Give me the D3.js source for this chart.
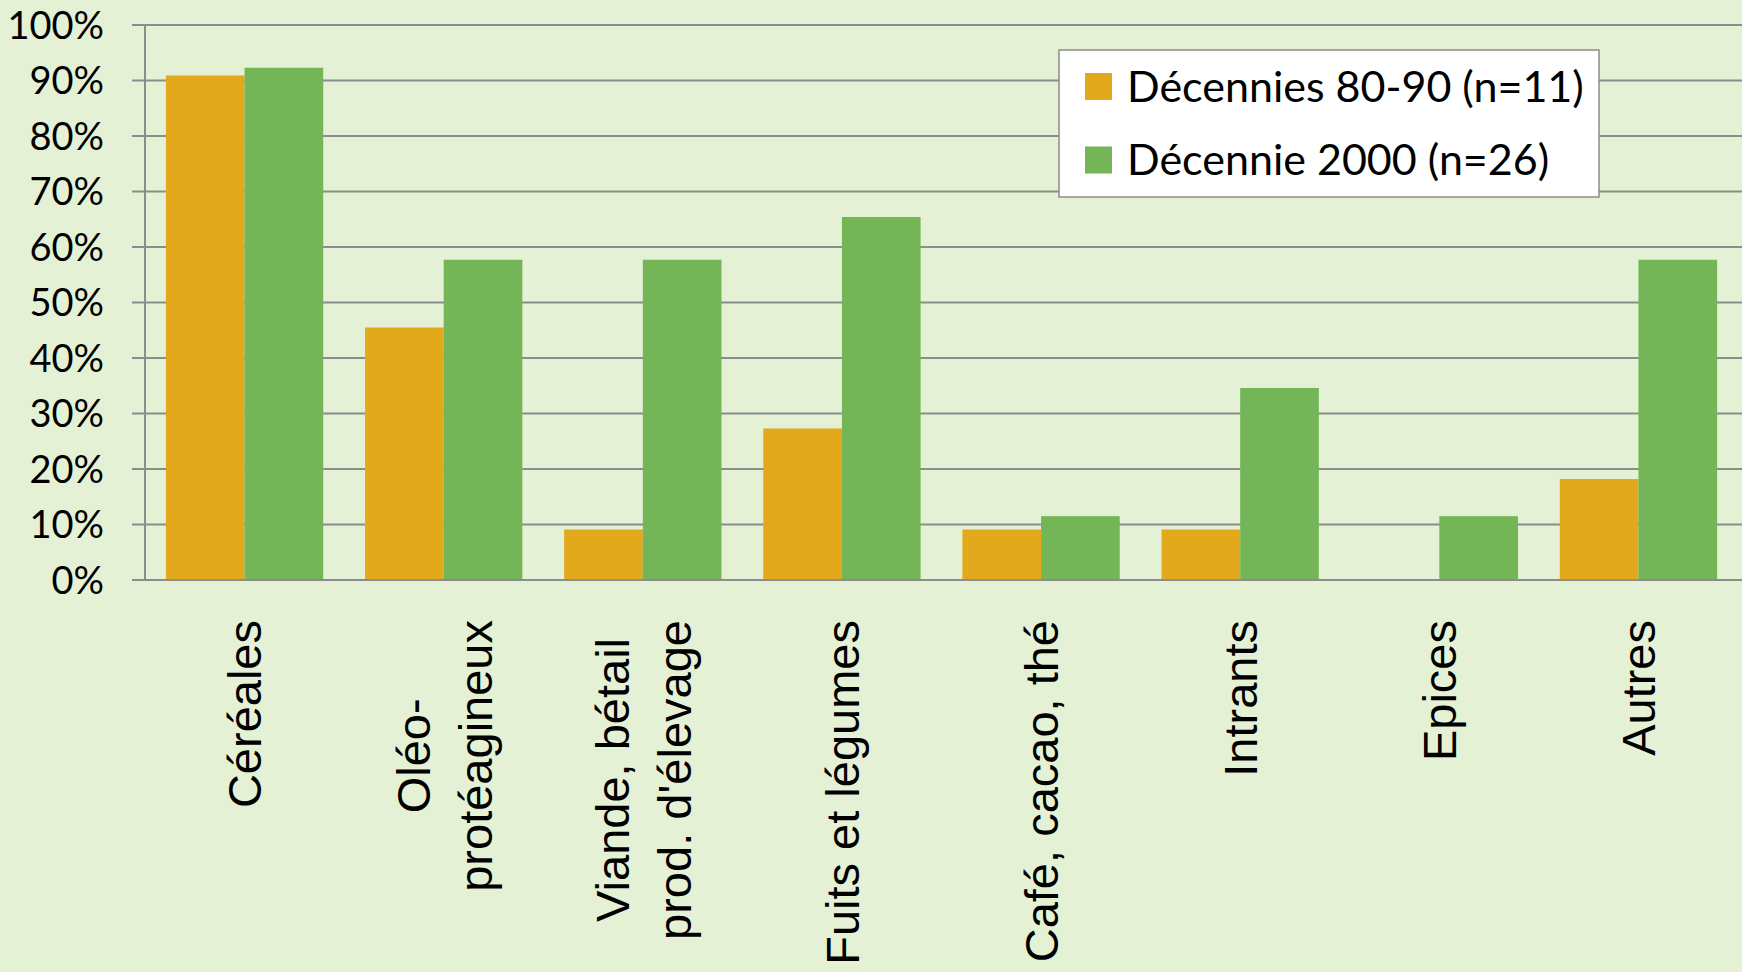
<!DOCTYPE html>
<html><head><meta charset="utf-8">
<script src="https://cdn.jsdelivr.net/npm/d3@7"></script>
<style>html,body{margin:0;padding:0;background:#e4f1d5;}</style>
</head><body>
<svg id="c" width="1742" height="972"></svg>
<script>
const categories = [["Céréales"], ["Oléo-", "protéagineux"], ["Viande, bétail", "prod. d'élevage"], ["Fuits et légumes"], ["Café, cacao, thé"], ["Intrants"], ["Epices"], ["Autres"]];
const seriesNames = ["Décennies 80-90 (n=11)", "Décennie 2000 (n=26)"];
const s8090 = [90.9, 45.5, 9.1, 27.3, 9.1, 9.1, 0, 18.2];
const s2000 = [92.3, 57.7, 57.7, 65.4, 11.5, 34.6, 11.5, 57.7];
const yTicks = [0, 10, 20, 30, 40, 50, 60, 70, 80, 90, 100];
const colors = ["#e2a91c", "#74b558"];

(function(){
const svg = d3.select("#c");
svg.append("rect").attr("width", 1742).attr("height", 972).attr("fill", "#e4f1d5");
const pL = 145, pR = 1742, pT = 25, pB = 580;
const keys = categories.map((c, i) => i);
const x = d3.scaleBand().domain(keys).range([pL, 1738]).paddingInner(0.21).paddingOuter(0.105);
const xs = d3.scaleBand().domain([0, 1]).range([0, x.bandwidth()]);
const y = d3.scaleLinear().domain([0, 100]).range([pB, pT]);

svg.append("g").selectAll("line").data(yTicks).join("line")
  .attr("x1", 132).attr("x2", pR).attr("y1", d => y(d)).attr("y2", d => y(d))
  .attr("stroke", "#8c8c8c").attr("stroke-width", 2);
svg.append("line").attr("x1", pL).attr("x2", pL).attr("y1", pT).attr("y2", pB)
  .attr("stroke", "#8c8c8c").attr("stroke-width", 2);
svg.append("g").selectAll("text").data(yTicks).join("text")
  .attr("x", 104).attr("y", d => y(d)).attr("dy", "0.36em")
  .attr("text-anchor", "end").attr("font-family", "Lato, sans-serif").attr("font-size", 38)
  .attr("fill", "#000").text(d => d + "%");

const series = [s8090, s2000];
series.forEach((vals, si) => {
  svg.append("g").selectAll("rect").data(vals).join("rect")
    .attr("x", (d, i) => x(i) + xs(si)).attr("width", xs.bandwidth())
    .attr("y", d => y(d)).attr("height", d => y(0) - y(d))
    .attr("fill", colors[si]);
});
svg.append("line").attr("x1", 132).attr("x2", pR).attr("y1", pB).attr("y2", pB)
  .attr("stroke", "#8c8c8c").attr("stroke-width", 2);

const lh = 62;
categories.forEach((lines, i) => {
  const cx = x(i) + x.bandwidth() / 2;
  const g = svg.append("g").attr("transform", `translate(${cx},620) rotate(-90)`);
  const n = lines.length;
  const texts = lines.map((t, j) => g.append("text").attr("x", 0).attr("y", (j - (n - 1) / 2) * lh).attr("dy", "0.36em")
      .attr("text-anchor", "end").attr("font-family", "'Liberation Sans', Arial, sans-serif")
      .attr("font-size", 47).attr("fill", "#000").text(t).node());
  if (n > 1) {
    const w = texts.map(t => t.getComputedTextLength());
    const mw = d3.max(w);
    texts.forEach((t, k) => t.setAttribute("x", -(mw - w[k]) / 2));
  }
});

const lg = svg.append("g");
lg.append("rect").attr("x", 1059).attr("y", 50).attr("width", 540).attr("height", 147)
  .attr("fill", "#fff").attr("stroke", "#8c8c8c").attr("stroke-width", 1.5);
seriesNames.forEach((nm, i) => {
  const cy = 86.5 + i * 73.5;
  lg.append("rect").attr("x", 1085).attr("y", cy - 13.5).attr("width", 27).attr("height", 27).attr("fill", colors[i]);
  lg.append("text").attr("x", 1127).attr("y", cy).attr("dy", "0.36em")
    .attr("font-family", "Lato, sans-serif").attr("font-size", 43).attr("fill", "#000").text(nm);
});
})();
</script>
</body></html>
